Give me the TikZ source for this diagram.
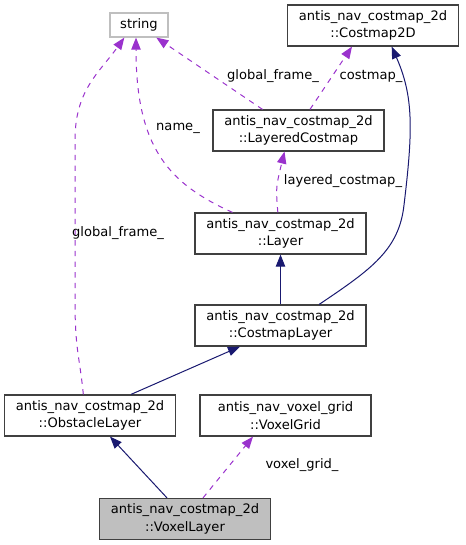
\documentclass[tikz,border=0pt]{standalone}
\usepackage{fontspec}
\setmainfont{DejaVu Sans}
\usetikzlibrary{arrows.meta}
\definecolor{purp}{HTML}{9A32CD}
\definecolor{navy}{HTML}{191970}
\definecolor{boxline}{HTML}{404040}
\tikzset{
  box/.style={draw=boxline, line width=0.9pt, fill=white, minimum width=128.25pt, minimum height=30.75pt, inner sep=0pt, align=center, font=\fontsize{9.8}{13}\selectfont},
  inh/.style={draw=navy, line width=0.75pt, -{Triangle[length=9pt,width=7pt]}},
  use/.style={draw=purp, line width=0.75pt, dash pattern=on 4pt off 4pt, -{Triangle[length=9pt,width=7pt]}},
  lbl/.style={font=\fontsize{9.8}{13}\selectfont, inner sep=0pt}
}
\begin{document}
\begin{tikzpicture}[x=0.75pt,y=-0.75pt]
\useasboundingbox (0,0) rectangle (465,545);
\node[box, draw=gray!50, minimum width=43.5pt, minimum height=18pt] (str) at (139,25) {string};
\node[box] (cm) at (373,25.5) {antis\_nav\_costmap\_2d\\::Costmap2D};
\node[box] (lc) at (298.5,130.5) {antis\_nav\_costmap\_2d\\::LayeredCostmap};
\node[box] (lay) at (280.5,233.5) {antis\_nav\_costmap\_2d\\::Layer};
\node[box] (cml) at (280.5,325.5) {antis\_nav\_costmap\_2d\\::CostmapLayer};
\node[box] (obs) at (90,415.5) {antis\_nav\_costmap\_2d\\::ObstacleLayer};
\node[box] (vg) at (285.5,415.5) {antis\_nav\_voxel\_grid\\::VoxelGrid};
\node[box, fill=gray!50] (vl) at (185,519) {antis\_nav\_costmap\_2d\\::VoxelLayer};

\coordinate (c1) at (404,205);
\coordinate (c2) at (75,300);
\coordinate (c3) at (75,140);

% inheritance
\draw[inh] (cml.north) -- (lay.south);
\draw[inh] ([xshift=29pt]cml.north) .. controls +(52,-35) and +(-5,45) .. (c1) .. controls +(9,-75) and +(22,50) .. ([xshift=14pt]cm.south);
\draw[inh] ([xshift=30.75pt]obs.north) -- ([xshift=-30.4pt]cml.south);
\draw[inh] ([xshift=-13.5pt]vl.north) -- ([xshift=15pt]obs.south);

% usage
\draw[use] ([xshift=-2pt]lay.north) .. controls +(-2,-25) .. ([xshift=-10.5pt]lc.south);
\draw[use] ([xshift=8.6pt]lc.north) -- ([xshift=-15.75pt]cm.south);
\draw[use] ([xshift=-27pt]lc.north) -- ([xshift=13pt]str.south);
\draw[use] ([xshift=-36pt]lay.north) .. controls +(-62,-28) and +(0,112) .. ([xshift=-2.25pt]str.south);
\draw[use] ([xshift=-5pt]obs.north) .. controls +(-4,-40) and +(0,50) .. (c2) -- (c3) .. controls +(0,-50) and +(-25,35) .. ([xshift=-11pt]str.south);
\draw[use] ([xshift=13.5pt]vl.north) -- ([xshift=-24.4pt]vg.south);

% labels
\node[lbl] (l1) at (343,181) {layered\_costmap\_};
\node[lbl] (l2) at (371,76) {costmap\_};
\node[lbl] (l3) at (273,76) {global\_frame\_};
\node[lbl] (l4) at (178,128) {name\_};
\node[lbl] (l5) at (118,233) {global\_frame\_};
\node[lbl] (l6) at (302,465) {voxel\_grid\_};
\end{tikzpicture}
\end{document}
